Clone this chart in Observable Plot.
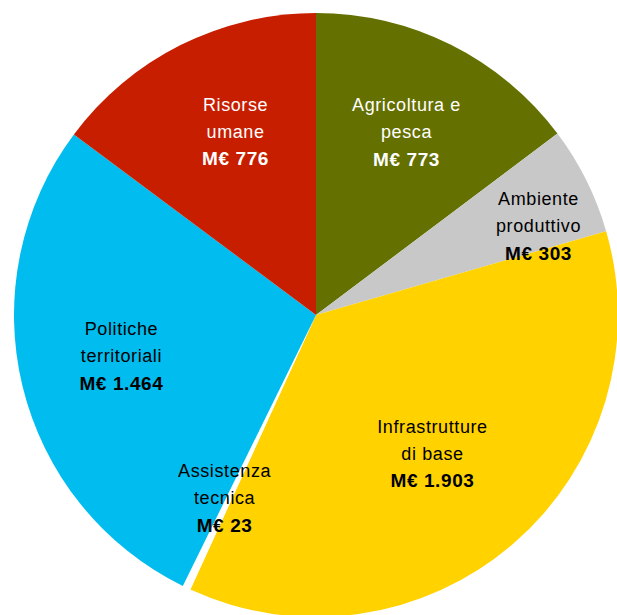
<!DOCTYPE html>
<html>
<head>
<meta charset="utf-8">
<script src="https://cdn.jsdelivr.net/npm/d3@7"></script>
<script src="https://cdn.jsdelivr.net/npm/@observablehq/plot@0.6"></script>
<style>
  html, body { margin: 0; padding: 0; background: #fff; }
  svg { font-family: Arial, "Liberation Sans", sans-serif; }
  svg text { letter-spacing: 0.6px; }
</style>
</head>
<body>
<div id="chart"></div>
<script>
// Data (clockwise from 12 o'clock)
const categories = ["Agricoltura e\npesca", "Ambiente\nproduttivo", "Infrastrutture\ndi base", "Assistenza\ntecnica", "Politiche\nterritoriali", "Risorse\numane"];
const values = [773, 303, 1903, 23, 1464, 776];
const colors = ["#647000", "#c8c8c8", "#ffd200", "#ffffff", "#00bcef", "#c81e00"];
const textColors = ["#ffffff", "#000000", "#000000", "#000000", "#000000", "#ffffff"];

// Layout
const W = 617, H = 615;
const cx = 316, cy = 315, R = 302;
const labelRadius = [0.675, 0.792, 0.598, 0.678, 0.66, 0.663];
const labelAngleShift = [-0.35, 4.66, 0.8, 1.3, 1.7, 2.8]; // degrees

const locale = d3.formatLocale({decimal: ",", thousands: ".", grouping: [3], currency: ["", ""]});
const fmt = locale.format(",d");

const pie = d3.pie().sort(null).value(d => d.value);
const table = categories.map((c, i) => ({name: c, value: values[i], color: colors[i], tcolor: textColors[i], lr: labelRadius[i], sh: labelAngleShift[i]}));
const arcs = pie(table);
const arcGen = d3.arc().innerRadius(0).outerRadius(R);

const labels = arcs.map(a => {
  const mid = (a.startAngle + a.endAngle) / 2 + a.data.sh * Math.PI / 180;
  const r = R * a.data.lr;
  const parts = a.data.name.split("\n");
  return {
    x: cx + r * Math.sin(mid),
    y: cy - r * Math.cos(mid),
    line1: parts[0],
    line2: parts[1] || "",
    value: "M€ " + fmt(a.data.value),
    tcolor: a.data.tcolor
  };
});

const slicesMark = (index, scales, values, dimensions, context) => {
  const g = d3.create("svg:g").attr("transform", `translate(${scales.x(cx)},${scales.y(cy)})`);
  g.selectAll("path")
    .data(arcs)
    .join("path")
    .attr("d", arcGen)
    .attr("fill", d => d.data.color)
    .attr("stroke", "none");
  return g.node();
};

const font = "Arial, 'Liberation Sans', sans-serif";
const chart = Plot.plot({
  width: W,
  height: H,
  margin: 0,
  x: {type: "identity", axis: null},
  y: {type: "identity", axis: null},
  style: {background: "#ffffff", overflow: "hidden"},
  marks: [
    slicesMark,
    Plot.text(labels, {x: "x", y: "y", text: "line1", fill: "tcolor", fontSize: 18, dy: -27, fontFamily: font}),
    Plot.text(labels, {x: "x", y: "y", text: "line2", fill: "tcolor", fontSize: 18, dy: 0, fontFamily: font}),
    Plot.text(labels, {x: "x", y: "y", text: "value", fill: "tcolor", fontSize: 19, fontWeight: "bold", dy: 27, fontFamily: font})
  ]
});
document.getElementById("chart").appendChild(chart);
</script>
</body>
</html>
